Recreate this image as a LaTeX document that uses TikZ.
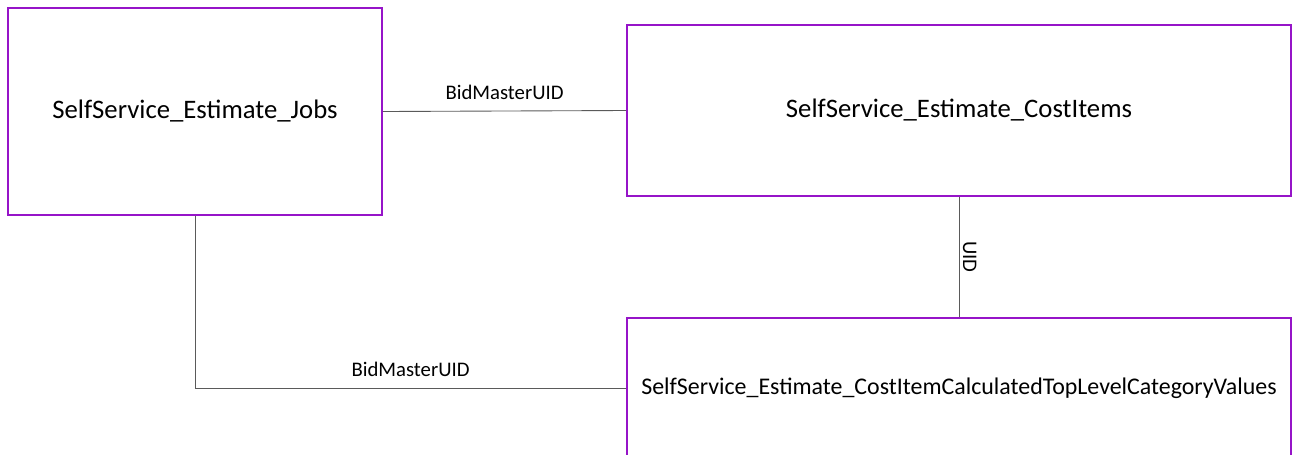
\documentclass[tikz,border=0pt]{standalone}
\usepackage{fontspec}
\setmainfont{Carlito}
\definecolor{tblpurple}{RGB}{150,20,200}
\definecolor{linkgray}{RGB}{90,90,90}

\begin{document}
\begin{tikzpicture}[x=0.02cm, y=-0.02cm,
    tbl/.style={draw=tblpurple, line width=1.1pt, inner sep=0pt, font=\fontsize{15.2}{17}\selectfont},
    link/.style={draw=linkgray, line width=0.5pt},
    lbl/.style={font=\fontsize{11.8}{13}\selectfont, inner sep=2pt}]
    \useasboundingbox (0, 0) rectangle (1292, 454);
    \node[tbl, minimum width=7.48cm, minimum height=4.14cm](jobs) at (195, 111.5){SelfService\_Estimate\_Jobs};
    \node[tbl, minimum width=13.28cm, minimum height=3.42cm](cost) at (959, 110.5){SelfService\_Estimate\_CostItems};
    \node[tbl, minimum width=13.28cm, minimum height=2.8cm, font=\fontsize{13.6}{15}\selectfont](vals) at (959, 388){SelfService\_Estimate\_CostItemCalculatedTopLevelCategoryValues};
    \draw[link](jobs.east)--node[lbl, above=4pt]{BidMasterUID}(cost.west);
    \draw[link](cost.south)--node[lbl, rotate=-90, anchor=south]{UID}(vals.north);
    \draw[link](jobs.south)|-node[lbl, pos=.75, above=4pt]{BidMasterUID}(vals.west);
\end{tikzpicture}
\end{document}
